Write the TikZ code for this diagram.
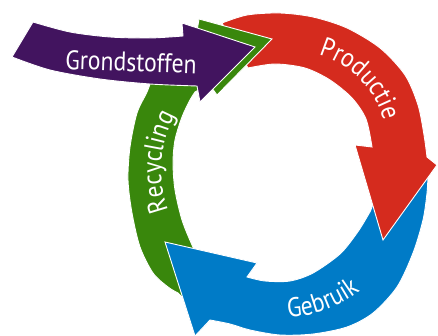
\documentclass[tikz,border=0pt]{standalone}
\usepackage{fontspec}
\newfontfamily\lblfam[FakeStretch=0.88]{PT Sans}
\newcommand{\lblfont}{\lblfam\fontsize{27}{32}\selectfont}
\usetikzlibrary{decorations.text}
\definecolor{ropurple}{HTML}{42145F}
\definecolor{rored}{HTML}{D52B1E}
\definecolor{rogreen}{HTML}{39870C}
\definecolor{roblue}{HTML}{007BC7}
\tikzset{
  band/.style={draw=white, line width=0.9pt, line join=miter},
  lbl/.style={text=white, font=\lblfont, inner sep=0pt},
  arclbl/.style={decorate, decoration={text along path, text={|\lblfont|#1}, text align=center, text color=white}}
}
\begin{document}
\begin{tikzpicture}[x=1pt,y=-1pt]
\useasboundingbox (0,0) rectangle (438,336);
% blue (Gebruik)
\path[fill=roblue, band] (428,175) -- plot[smooth] coordinates {(428,175) (427,193) (423,220) (413,253) (397,287) (373,313) (347,327) (313,334) (280,335) (250,330) (230,324) (210,320)}
  -- (195,336) -- (165,242) -- (257,263)
  -- plot[smooth] coordinates {(247,277) (265,281) (290,281) (313,273) (340,254) (357,233) (367,217) (372,207) (380,180)} -- cycle;
% red (Productie)
\path[fill=rored, band] (222,23) -- plot[smooth] coordinates {(222,23) (247,15) (280,13) (313,17) (347,28) (380,48) (405,75) (418,105) (424,135) (427,157)}
  -- (437,165) -- (383,240) -- (355,145)
  -- plot[smooth] coordinates {(372,147) (366,119) (352,98) (330,80) (305,68) (275,64) (248,68)} -- cycle;
% green (Recycling)
\path[fill=rogreen, band] (178,293) -- plot[smooth] coordinates {(178,293) (168,287) (153,273) (140,247) (132,213) (128,180) (130,147) (137,113) (147,92) (156,70) (172,50) (196,37)}
  -- (199,19) -- (272,39) -- (217,95) -- (209,84)
  -- plot[smooth] coordinates {(195,92) (190,100) (182,117) (175,140) (173,163) (175,190) (182,220) (192,245) (200,262)}
  -- (190,305) -- cycle;
% blue arrowhead again, over the green
\begin{scope}
\clip (150,230) rectangle (262,336);
\path[fill=roblue, band] (428,175) -- plot[smooth] coordinates {(428,175) (427,193) (423,220) (413,253) (397,287) (373,313) (347,327) (313,334) (280,335) (250,330) (230,324) (210,320)}
  -- (195,336) -- (165,242) -- (257,263)
  -- plot[smooth] coordinates {(247,277) (265,281) (290,281) (313,273) (340,254) (357,233) (367,217) (372,207) (380,180)} -- cycle;
\end{scope}
% purple (Grondstoffen)
\path[fill=ropurple, band] (12,57) -- (33,22) -- plot[smooth] coordinates {(33,22) (70,32) (110,37) (150,38) (183,36)}
  -- (182,23) -- (255,47) -- (200,102)
  -- plot[smooth] coordinates {(197,86) (150,84) (100,79) (50,70) (12,57)} -- cycle;
% labels
\node[lbl, rotate=-2] (grond) at (131,62) {Grondstoffen};
\path[arclbl=Productie] (292,146) ++(-94.5:95) arc[start angle=-94.5, end angle=5.5, radius=95];
\path[arclbl=Recycling] (275,170) ++(-216:114) arc[start angle=-216, end angle=-136, radius=114];
\path[arclbl=Gebruik] (280,185) ++(109.7:133) arc[start angle=109.7, end angle=29.7, radius=133];
\end{tikzpicture}
\end{document}
